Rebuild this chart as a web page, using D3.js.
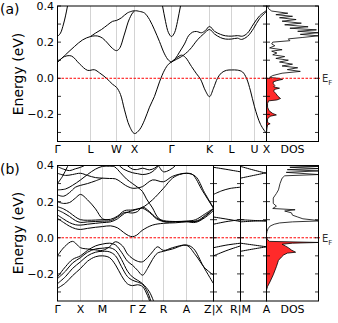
<!DOCTYPE html>
<meta charset="utf-8">
<html lang="en">
<style>
    body { margin: 0; background: #fff; }
    svg { font-family: "DejaVu Sans", sans-serif; }
    .band { fill: none; stroke: #000; stroke-width: 1; }
    .grid { stroke: #c8c8c8; stroke-width: 0.8; }
    .frame { fill: none; stroke: #000; stroke-width: 1; }
    .tick { stroke: #000; stroke-width: 0.8; }
    .ef { stroke: #ff0000; stroke-width: 1; stroke-dasharray: 2.5,1.5; }
    .dos { fill: none; stroke: #000; stroke-width: 0.8; }
    .dosfill { fill: #ff2a2a; stroke: none; }
</style>
<head>
    <script src="https://d3js.org/d3.v7.min.js"></script>
</head>
<body>
<svg width="338" height="323"></svg>
<script>

    // ---- energy axis ----
    var eTicks = [-0.3, -0.2, -0.1, 0.0, 0.1, 0.2, 0.3, 0.4];
    var eLabels = [-0.2, 0.0, 0.2, 0.4];

    // ---- panel (a): k-path  Γ L W X Γ K L U X ----
    var kLabelsA = ["Γ", "L", "W", "X", "Γ", "K", "L", "U", "X"];
    var kPosA = [0, 33, 59, 77, 114, 152, 174, 197, 209];

    var bandsA = [
        [[0,0.089],[7,0.12],[14,0.123],[22,0.08],[30,0.044],[37,0.047],[42,0.03],[49,0.0],[55,-0.033],[59,-0.05],
         [63,-0.09],[67,-0.175],[72,-0.265],[77,-0.306],[82,-0.285],[87,-0.232],[92,-0.16],[97,-0.1],[102,-0.02],
         [107,0.045],[111,0.078],[114,0.09],[119,0.112],[124,0.128],[128,0.115],[134,0.065],[139,0.025],[143,-0.005],
         [148,-0.07],[152,-0.102],[156,-0.055],[160,0.0],[164,0.03],[169,0.044],[174,0.046],[180,0.045],[185,0.035],
         [189,0.0],[193,-0.07],[197,-0.158],[203,-0.255],[209,-0.306]],
        [[0,0.089],[8,0.13],[17,0.176],[25,0.212],[33,0.231],[40,0.234],[45,0.222],[50,0.195],[55,0.165],[59,0.153],
         [62,0.165],[67,0.245],[72,0.33],[77,0.372],[82,0.37],[87,0.361],[92,0.325],[97,0.268],[102,0.203],[107,0.135],
         [111,0.1],[114,0.09]],
        [[33,0.231],[38,0.25],[44,0.27],[50,0.295],[55,0.315],[59,0.32],[64,0.335],[70,0.362],[77,0.375]],
        [[0,0.231],[3,0.25],[6,0.3],[8,0.345],[10,0.4],[12,0.46]],
        [[102,0.47],[105,0.4],[108,0.315],[111,0.252],[114,0.231],[117,0.252],[120,0.315],[123,0.4],[126,0.47]],
        [[114,0.09],[118,0.11],[122,0.145],[127,0.19],[131,0.235],[135,0.255],[139,0.259],[144,0.252],[148,0.265],
         [152,0.287],[157,0.26],[163,0.243],[168,0.235],[174,0.233],[180,0.236],[185,0.233],[190,0.25],[196,0.3],
         [202,0.345],[209,0.375]],
        [[114,0.09],[119,0.105],[124,0.12],[132,0.157],[140,0.213],[146,0.245],[152,0.27],[157,0.245],[163,0.225],
         [168,0.217],[174,0.217],[180,0.222],[184,0.215],[190,0.232],[196,0.275],[202,0.33],[209,0.37]]
    ];

    // DOS (a): [energy, dos fraction of panel width]
    var dosCondA = [[0.40,0.02],[0.385,0.04],[0.372,0.1],[0.36,0.41],[0.352,0.18],[0.343,0.5],[0.335,0.25],
        [0.325,0.57],[0.316,0.3],[0.305,0.67],[0.296,0.35],[0.285,0.8],[0.277,0.45],[0.268,0.96],[0.26,0.6],
        [0.252,1.0],[0.243,0.65],[0.235,1.0],[0.226,0.7],[0.218,0.42],[0.208,0.45],[0.2,0.12],[0.19,0.1],
        [0.18,0.16],[0.168,0.06],[0.158,0.3],[0.15,0.1],[0.14,0.2],[0.13,0.12],[0.12,0.35],[0.11,0.18],
        [0.1,0.42],[0.09,0.25],[0.078,0.5],[0.068,0.3],[0.058,0.6],[0.048,0.4],[0.038,0.65],[0.028,0.3],
        [0.015,0.12],[0.005,0.06]];
    var dosValA = [[0,0.22],[-0.006,0.31],[-0.013,0.2],[-0.02,0.13],[-0.03,0.13],[-0.04,0.16],[-0.048,0.14],
        [-0.055,0.25],[-0.062,0.15],[-0.072,0.14],[-0.085,0.18],[-0.1,0.22],[-0.112,0.27],[-0.12,0.2],
        [-0.125,0.04],[-0.14,0.02],[-0.16,0.02],[-0.18,0.05],[-0.195,0.12],[-0.203,0.19],[-0.21,0.07],
        [-0.225,0.02],[-0.245,0.02],[-0.252,0.07],[-0.258,0.02],[-0.275,0.01],[-0.3,0]];

    // ---- panel (b): Γ X M Γ Z R A Z | X R | M A ----
    var kLabelsB1 = ["Γ", "X", "M", "Γ", "Z", "R", "A"];
    var kPosB1 = [0, 23, 45, 75, 85, 106, 129, 156];

    var bandsB1 = [
        // conduction
        [[0,0.107],[6,0.085],[12,0.064],[18,0.05],[23,0.046],[30,0.052],[38,0.058],[45,0.062],[53,0.066],[60,0.055],
         [66,0.03],[71,0.012],[75,0.006],[79,0.014],[85,0.042],[95,0.07],[106,0.08],[118,0.083],[129,0.088],
         [138,0.085],[147,0.11],[156,0.15]],
        [[0,0.126],[6,0.104],[12,0.084],[18,0.072],[23,0.07],[30,0.075],[38,0.08],[45,0.084],[53,0.088],[60,0.105],
         [67,0.135],[75,0.15],[80,0.158],[85,0.163],[92,0.14],[99,0.105],[106,0.09],[118,0.09],[129,0.092],
         [138,0.1],[147,0.13],[156,0.163]],
        [[0,0.154],[6,0.138],[12,0.118],[18,0.095],[23,0.085],[30,0.088],[38,0.09],[45,0.092],[53,0.095],[60,0.115],
         [67,0.14],[75,0.137],[80,0.145],[85,0.17],[92,0.145],[99,0.11],[106,0.095],[118,0.09],[129,0.091],
         [140,0.092],[148,0.12],[156,0.16]],
        [[0,0.172],[6,0.16],[12,0.14],[18,0.115],[23,0.1],[30,0.097],[38,0.098],[45,0.1],[53,0.102],[60,0.12],
         [67,0.15],[75,0.154],[80,0.16],[85,0.168],[95,0.21],[106,0.274],[115,0.33],[122,0.35],[129,0.357],
         [135,0.35],[145,0.26],[156,0.163]],
        [[0,0.2],[6,0.19],[12,0.195],[18,0.22],[23,0.24],[30,0.21],[38,0.16],[45,0.105],[50,0.1]],
        [[0,0.237],[6,0.23],[12,0.25],[18,0.28],[23,0.29],[30,0.3],[38,0.315],[45,0.33]],
        [[0,0.265],[8,0.27],[15,0.29],[23,0.32],[30,0.35],[38,0.38],[45,0.395],[52,0.396],[57,0.393],[63,0.36],
         [69,0.325],[75,0.3],[80,0.28],[85,0.256],[89,0.215],[95,0.165],[100,0.115],[106,0.09],[118,0.088],
         [129,0.09],[140,0.095],[148,0.125],[156,0.16]],
        [[0,0.357],[8,0.345],[15,0.35],[23,0.357],[30,0.345],[38,0.333],[45,0.33],[52,0.328],[58,0.326],[63,0.31],
         [68,0.29],[75,0.274],[80,0.276],[85,0.283],[95,0.32],[106,0.31],[115,0.34],[129,0.357],[138,0.34],
         [147,0.25],[156,0.165]],
        [[0,0.30],[5,0.34],[10,0.394],[13,0.43]],
        [[0,0.394],[6,0.38],[12,0.372],[18,0.382],[23,0.39],[30,0.41],[35,0.44]],
        [[55,0.45],[60,0.41],[66,0.38],[75,0.36],[80,0.355],[85,0.35],[92,0.357],[97,0.375],[101,0.4],[104,0.43]],
        [[60,0.46],[66,0.42],[75,0.38],[80,0.378],[85,0.385],[92,0.376],[97,0.385],[101,0.404],[104,0.43]],
        [[98,0.43],[102,0.39],[106,0.365],[112,0.375],[118,0.4],[122,0.43]],
        // valence
        [[0,-0.1],[7,-0.05],[15,-0.02],[23,-0.055],[30,-0.062],[38,-0.067],[45,-0.07],[52,-0.05],[58,-0.022],
         [65,-0.045],[70,-0.09],[75,-0.115],[80,-0.13],[85,-0.133],[90,-0.11],[95,-0.078],[100,-0.05],[106,-0.07],
         [115,-0.055],[129,-0.04],[136,-0.06],[146,-0.16],[156,-0.254]],
        [[0,-0.217],[8,-0.16],[15,-0.12],[23,-0.1],[30,-0.07],[38,-0.045],[45,-0.035],[52,-0.03],[58,-0.04],
         [64,-0.08],[70,-0.13],[75,-0.152],[80,-0.18],[85,-0.207],[90,-0.17],[95,-0.12],[100,-0.085],[106,-0.075],
         [115,-0.062],[129,-0.042],[138,-0.095],[147,-0.165],[156,-0.207]],
        [[0,-0.226],[8,-0.185],[15,-0.14],[23,-0.11],[30,-0.08],[38,-0.062],[45,-0.058],[52,-0.055],[58,-0.07],
         [64,-0.12],[70,-0.185],[75,-0.217],[80,-0.235],[85,-0.254],[92,-0.3],[98,-0.38]],
        [[0,-0.254],[8,-0.215],[15,-0.17],[23,-0.133],[30,-0.1],[38,-0.08],[45,-0.075],[52,-0.078],[58,-0.1],
         [64,-0.16],[70,-0.215],[75,-0.235],[80,-0.245],[85,-0.258],[90,-0.3],[95,-0.38]],
        [[0,-0.28],[8,-0.25],[15,-0.21],[23,-0.17],[30,-0.13],[38,-0.105],[45,-0.1],[52,-0.11],[58,-0.15],
         [64,-0.21],[70,-0.255],[75,-0.265],[80,-0.26],[85,-0.27],[90,-0.32],[94,-0.38]]
    ];

    var bandsB2 = [   // X - R
        [[0,0.39],[13,0.378],[26,0.365]],
        [[0,0.24],[8,0.26],[16,0.273],[26,0.28]],
        [[0,0.115],[13,0.103],[26,0.09]],
        [[0,0.075],[13,0.09],[26,0.1]],
        [[0,-0.055],[13,-0.04],[26,-0.03]],
        [[0,-0.1],[13,-0.07],[26,-0.045]]
    ];
    var bandsB3 = [   // M - A
        [[0,0.395],[13,0.375],[26,0.357]],
        [[0,0.33],[13,0.345],[26,0.36]],
        [[0,0.1],[13,0.096],[26,0.092]],
        [[0,0.088],[13,0.092],[26,0.095]],
        [[0,-0.03],[13,-0.04],[26,-0.05]],
        [[0,-0.075],[13,-0.062],[26,-0.05]]
    ];

    var dosCondB = [[0.40,0.4],[0.395,1.0],[0.39,0.45],[0.383,1.0],[0.377,0.4],[0.37,1.0],[0.362,0.38],
        [0.35,1.0],[0.343,0.35],[0.33,0.3],[0.3,0.26],[0.265,0.23],[0.245,0.19],[0.22,0.13],[0.19,0.13],
        [0.175,0.19],[0.162,0.12],[0.155,0.55],[0.148,0.35],[0.138,0.48],[0.125,0.5],[0.115,0.6],[0.105,0.7],
        [0.097,0.95],[0.093,1.0],[0.088,0.5],[0.082,0.25],[0.075,0.15],[0.065,0.07],[0.05,0.03],[0.035,0.01],
        [0.02,0]];
    var dosValB = [[0,0],[-0.01,0.02],[-0.02,0.06],[-0.026,1.0],[-0.03,0.5],[-0.036,0.3],[-0.045,0.36],
        [-0.055,0.42],[-0.068,0.48],[-0.08,0.56],[-0.085,0.4],[-0.095,0.33],[-0.106,0.29],[-0.125,0.23],
        [-0.16,0.19],[-0.205,0.13],[-0.245,0.065],[-0.27,0.02],[-0.29,0]];

    // ---- drawing ----
    var svg = d3.select("svg");
    var yA = d3.scaleLinear().domain([-0.35, 0.4]).range([141.5, 6]);
    var yB = d3.scaleLinear().domain([-0.35, 0.4]).range([301, 165.5]);
    var clipN = 0;

    function frame(x0, x1, y) {
        var top = y.range()[1], bot = y.range()[0];
        svg.append("rect").attr("class", "frame")
            .attr("x", x0).attr("y", top).attr("width", x1 - x0).attr("height", bot - top);
        eTicks.forEach(function (e) {
            svg.append("line").attr("class", "tick")
                .attr("x1", x0).attr("x2", x0 + 3.5).attr("y1", y(e)).attr("y2", y(e));
            svg.append("line").attr("class", "tick")
                .attr("x1", x1).attr("x2", x1 - 3.5).attr("y1", y(e)).attr("y2", y(e));
        });
    }

    function clipRect(x0, x1, y) {
        var id = "clip" + (clipN++);
        svg.append("clipPath").attr("id", id).append("rect")
            .attr("x", x0).attr("y", y.range()[1])
            .attr("width", x1 - x0).attr("height", y.range()[0] - y.range()[1]);
        return "url(#" + id + ")";
    }

    function bandPanel(x0, x1, kmax, y, bands, grid) {
        var x = d3.scaleLinear().domain([0, kmax]).range([x0, x1]);
        svg.append("g").selectAll("line").data(grid).enter().append("line")
            .attr("class", "grid")
            .attr("x1", d => x(d)).attr("x2", d => x(d))
            .attr("y1", y.range()[1]).attr("y2", y.range()[0]);
        var line = d3.line()
            .x(d => x(d[0])).y(d => y(d[1]))
            .curve(d3.curveCatmullRom.alpha(0.5));
        svg.append("g").attr("clip-path", clipRect(x0, x1, y))
            .selectAll("path").data(bands).enter().append("path")
            .attr("class", "band").attr("d", line);
        return x;
    }

    function dosPanel(x0, x1, y, cond, val) {
        var x = d3.scaleLinear().domain([0, 1]).range([x0, x1]);
        var g = svg.append("g").attr("clip-path", clipRect(x0, x1, y));
        g.append("path").datum(val).attr("class", "dosfill")
            .attr("d", d3.area().y(d => y(d[0])).x0(x0).x1(d => x(d[1])));
        g.append("path").datum(cond.concat(val)).attr("class", "dos")
            .attr("d", d3.line().x(d => x(d[1])).y(d => y(d[0])));
    }

    function yAxisText(y, label, cy) {
        eLabels.forEach(function (e) {
            svg.append("text").attr("x", 54).attr("y", y(e)).attr("dy", "0.36em")
                .attr("text-anchor", "end").style("font-size", "11px")
                .text(e < 0 ? "\u2212" + Math.abs(e).toFixed(1) : e.toFixed(1));
        });
        svg.append("text").attr("transform", "translate(23," + cy + ") rotate(-90)")
            .attr("text-anchor", "middle").style("font-size", "14px").text("Energy (eV)");
        svg.append("text").attr("x", 0).attr("y", y.range()[1] + 8)
            .style("font-size", "14px").text(label);
    }

    function kText(xs, labels, baseline) {
        labels.forEach(function (t, i) {
            svg.append("text").attr("x", xs[i]).attr("y", baseline)
                .attr("text-anchor", "middle").style("font-size", "11px").text(t);
        });
    }

    function fermi(y, x0, x1) {
        svg.append("line").attr("class", "ef")
            .attr("x1", x0).attr("x2", x1).attr("y1", y(0)).attr("y2", y(0));
        var t = svg.append("text").attr("x", x1 + 2).attr("y", y(0) + 4)
            .style("font-size", "10px").style("fill", "#333");
        t.append("tspan").text("E");
        t.append("tspan").attr("dy", 3).style("font-size", "7px").text("F");
    }

    // panel (a)
    var xA = bandPanel(57.5, 266.5, 209, yA, bandsA, kPosA.slice(1, -1));
    dosPanel(266.5, 318.5, yA, dosCondA, dosValA);
    fermi(yA, 57.5, 320);
    frame(57.5, 266.5, yA);
    frame(266.5, 318.5, yA);
    yAxisText(yA, "(a)", 74);
    kText(kPosA.map(xA).concat([292.5]), kLabelsA.concat(["DOS"]), 153);

    // panel (b)
    var xB1 = bandPanel(57.5, 213.5, 156, yB, bandsB1, kPosB1.slice(1, -1));
    bandPanel(213.5, 240.5, 26, yB, bandsB2, []);
    bandPanel(240.5, 266.5, 26, yB, bandsB3, []);
    dosPanel(266.5, 318.5, yB, dosCondB, dosValB);
    fermi(yB, 57.5, 320);
    frame(57.5, 213.5, yB);
    frame(213.5, 240.5, yB);
    frame(240.5, 266.5, yB);
    frame(266.5, 318.5, yB);
    yAxisText(yB, "(b)", 233);
    kText(kPosB1.slice(0, 7).map(xB1).concat([213.5, 240.5, 266.5, 292.5]),
        kLabelsB1.concat(["Z|X", "R|M", "A", "DOS"]), 313);

</script>
</body>
</html>
